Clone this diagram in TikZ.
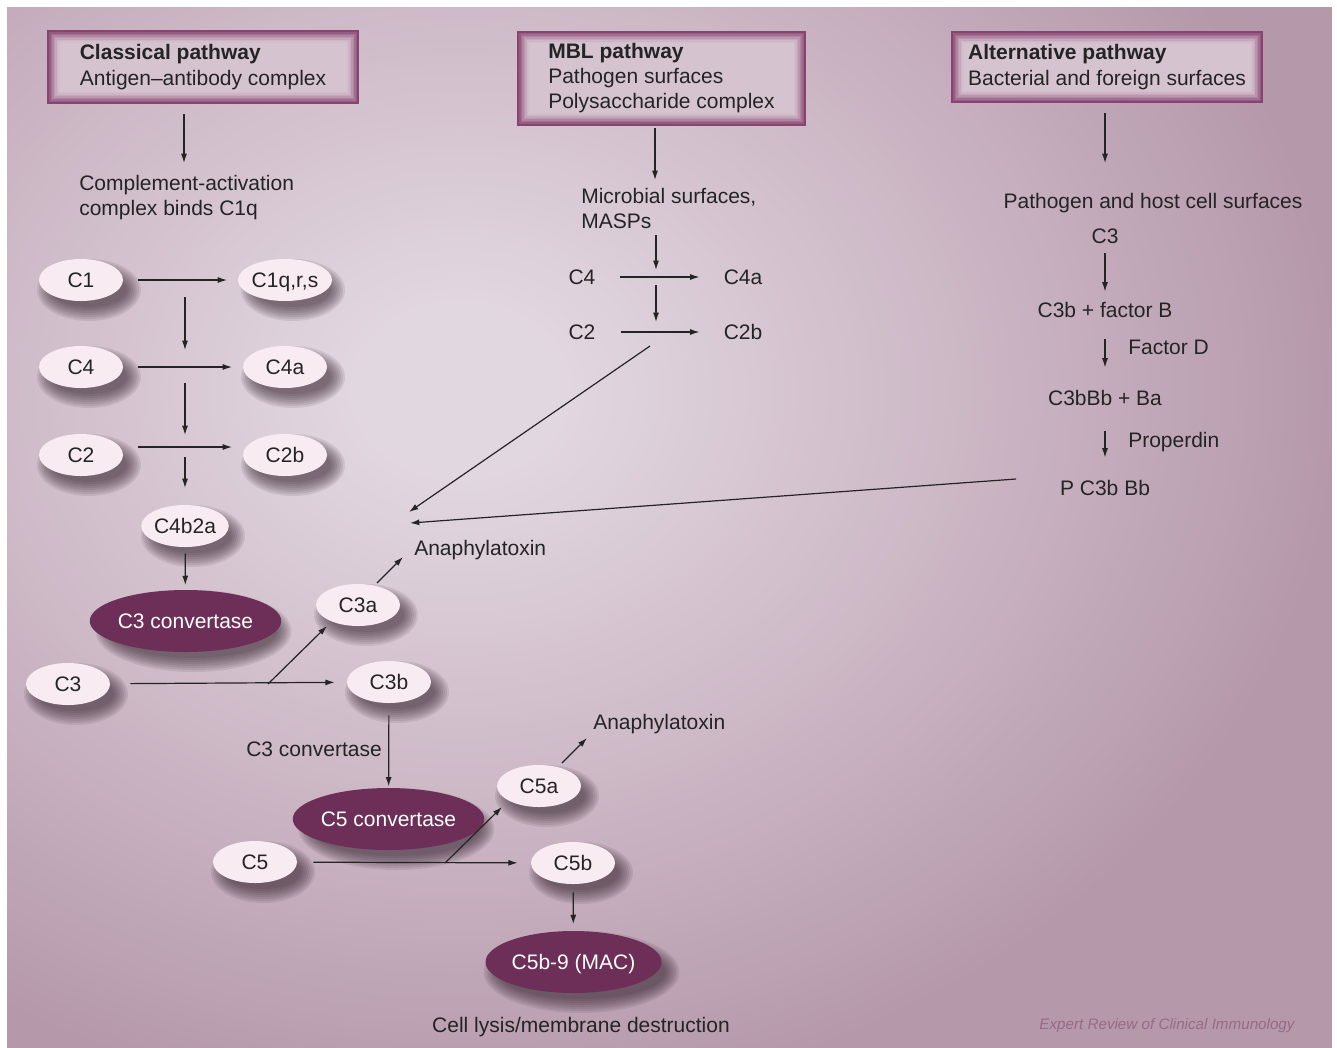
\documentclass[tikz,border=0pt]{standalone}
\usepackage{fontspec}
\setmainfont{Liberation Sans}
\usetikzlibrary{arrows.meta,shapes.geometric}
\definecolor{bgin}{HTML}{E1D7E0}
\definecolor{bgmid}{HTML}{CDB8C6}
\definecolor{bgout}{HTML}{B599AB}
\definecolor{txt}{HTML}{242424}
\definecolor{lightell}{HTML}{F8ECF2}
\definecolor{darkell}{HTML}{6D2F58}
\definecolor{frameD}{HTML}{884470}
\definecolor{frameL}{HTML}{D6C3D0}
\definecolor{credit}{HTML}{98698A}
\definecolor{shc}{HTML}{35232F}
\pgfdeclareradialshading{bgshade}{\pgfpoint{0bp}{0bp}}{color(0bp)=(bgin); color(3bp)=(bgin); color(14bp)=(bgmid); color(25bp)=(bgout); color(50bp)=(bgout)}
\newcommand{\eshadow}[4]{%
  \foreach \k in {0,...,7}{%
    \fill[shc, opacity=0.1] ({#1+8},{#2+10}) ellipse [x radius={(#3-4+\k*2)*0.75pt}, y radius={(#4-4+\k*2)*0.75pt}];}}
\tikzset{
  lell/.style={ellipse, fill=lightell, minimum width=63pt, minimum height=31.5pt, inner sep=0pt,
    text=txt, text height=11.3pt, text depth=0pt},
  dell/.style={ellipse, fill=darkell, minimum width=132pt, minimum height=46.5pt, inner sep=0pt,
    text=white, text height=11.3pt, text depth=0pt},
  pbox/.style={rectangle, fill=frameD, align=left, text=txt, inner sep=0pt,
    path picture={
      \foreach \i/\c in {2/82,3.5/66,5/50,6.5/35,8/22,9.5/11,11/4,12.5/0}{
        \fill[frameD!\c!frameL] ([xshift=\i*0.75pt,yshift=\i*0.75pt]path picture bounding box.south west)
          rectangle ([xshift=-\i*0.75pt,yshift=-\i*0.75pt]path picture bounding box.north east);
      }}},
  lbl/.style={text=txt, inner sep=0pt, text height=11.3pt, text depth=0pt},
  mlbl/.style={text=txt, inner sep=0pt, align=left, anchor=base west},
  arr/.style={draw=txt, line width=0.9pt, -{Latex[length=7pt,width=4.5pt]}},
}
\begin{document}
\begin{tikzpicture}[x=0.75pt,y=-0.75pt,font=\fontsize{15.75pt}{19pt}\selectfont]
\useasboundingbox (0,0) rectangle (1337,1047);
\begin{scope}
  \clip (7,7) rectangle (1332,1070);
  \fill[bgout] (7,7) rectangle (1332,1070);
  \shade[shading=bgshade] (460,390) ellipse [x radius=660pt, y radius=540pt];
\end{scope}
\fill[white] (-5,-5) rectangle (1342,7);
\fill[white] (-5,-5) rectangle (7,1060);
\fill[white] (1332,-5) rectangle (1342,1060);

% pathway boxes
\node[pbox, minimum width=234pt, minimum height=55.5pt] (cp) at (203,67)
  {{\bfseries Classical pathway}\\Antigen\textendash antibody complex};
\node[pbox, minimum width=216.75pt, minimum height=71.25pt] (mbl) at (661.5,78)
  {{\bfseries MBL pathway}\\Pathogen surfaces\\Polysaccharide complex};
\node[pbox, minimum width=234pt, minimum height=54pt] (alt) at (1107,67)
  {{\bfseries Alternative pathway}\\Bacterial and foreign surfaces};

% classical column
\coordinate (cpe) at (184,163);
\draw[arr, shorten <=7.5pt] (cp.south -| cpe) -- (cpe);
\node[mlbl] (cmpl) at (79,215.5) {Complement-activation\\complex binds C1q};

\eshadow{81}{280}{42}{21}
\node[lell] (c1) at (81,280) {C1};
\eshadow{285}{280}{42}{21}
\node[lell] (c1q) at (285,280) {C1q,r,s};
\eshadow{81}{367}{42}{21}
\node[lell] (c4) at (81,367) {C4};
\eshadow{285}{367}{42}{21}
\node[lell] (c4a) at (285,367) {C4a};
\eshadow{81}{455}{42}{21}
\node[lell] (c2) at (81,455) {C2};
\eshadow{285}{455}{42}{21}
\node[lell] (c2b) at (285,455) {C2b};
\eshadow{185}{526}{42}{21}
\node[lell] (c4b2a) at (185,526) {C4b2a};
\eshadow{185.5}{621}{88}{31}
\node[dell] (c3conv) at (185.5,621) {C3 convertase};

\draw[arr, shorten <=11pt, shorten >=8pt] (c1) -- (c1q);
\draw[arr, shorten <=11pt, shorten >=8pt] (c4) -- (c4a);
\draw[arr, shorten <=11pt, shorten >=8pt] ([yshift=6pt]c2.east) -- ([yshift=6pt]c2b.west);
\coordinate (v1s) at (185,297); \coordinate (v1e) at (185,350);
\coordinate (v2s) at (185,383); \coordinate (v2e) at (185,435);
\coordinate (v3s) at (185,457); \coordinate (v3e) at (185,488);
\draw[arr] (v1s) -- (v1e);
\draw[arr] (v2s) -- (v2e);
\draw[arr] (v3s) -- (v3e);
\draw[arr, shorten <=4.5pt, shorten >=3.5pt] (c4b2a) -- (c3conv);

% C3 cleavage
\eshadow{68}{684}{42}{21}
\node[lell] (c3) at (68,684) {C3};
\eshadow{358}{605}{42}{21}
\node[lell] (c3a) at (358,605) {C3a};
\eshadow{389}{682}{42}{21}
\node[lell] (c3b) at (389,682) {C3b};
\node[lbl, anchor=west] (ana1) at (414,548) {Anaphylatoxin};
\coordinate (br3) at (268,684);
\coordinate (c3ae) at (327,626);
\draw[arr, shorten <=15pt, shorten >=9pt] (c3) -- (c3b);
\draw[arr] (br3) -- (c3ae);
\coordinate (a1s) at (377,583); \coordinate (a1e) at (403,557);
\draw[arr] (a1s) -- (a1e);

% C5 stage
\node[lbl, anchor=east] (c3cl) at (382,749) {C3 convertase};
\eshadow{388.5}{819}{88}{31}
\node[dell] (c5conv) at (388.5,819) {C5 convertase};
\draw[arr, shorten <=9pt, shorten >=1pt] (c3b) -- (c5conv);
\eshadow{255}{862}{42}{21}
\node[lell] (c5) at (255,862) {C5};
\eshadow{539}{786}{42}{21}
\node[lell] (c5a) at (539,786) {C5a};
\eshadow{573}{863}{42}{21}
\node[lell] (c5b) at (573,863) {C5b};
\node[lbl, anchor=west] (ana2) at (593,722) {Anaphylatoxin};
\draw[arr, shorten <=12pt, shorten >=9.75pt] (c5) -- (c5b);
\coordinate (br5) at (445,863); \coordinate (c5ae) at (502,807);
\draw[arr] (br5) -- (c5ae);
\coordinate (a2s) at (562,763); \coordinate (a2e) at (587,738);
\draw[arr] (a2s) -- (a2e);
\eshadow{573.5}{962}{88}{31}
\node[dell] (mac) at (573.5,962) {C5b-9 (MAC)};
\draw[arr, shorten <=6pt, shorten >=5pt] (c5b) -- (mac);
\node[lbl] (lysis) at (581,1025) {Cell lysis/membrane destruction};

% MBL column
\coordinate (mble) at (655,180);
\draw[arr, shorten <=2pt] (mbl.south -| mble) -- (mble);
\node[mlbl] (micro) at (581,228.5) {Microbial surfaces,\\MASPs};
\node[lbl] (m4) at (582,277) {C4};
\node[lbl] (m4a) at (743,277) {C4a};
\node[lbl] (m2) at (582,332) {C2};
\node[lbl] (m2b) at (743,332) {C2b};
\draw[arr, shorten <=18pt, shorten >=18pt] (m4) -- (m4a);
\draw[arr, shorten <=19pt, shorten >=18pt] (m2) -- (m2b);
\coordinate (mv1s) at (656,235); \coordinate (mv1e) at (656,270);
\coordinate (mv2s) at (656,285); \coordinate (mv2e) at (656,322);
\draw[arr] (mv1s) -- (mv1e);
\draw[arr] (mv2s) -- (mv2e);
\coordinate (md1) at (650,346); \coordinate (md2) at (409,512);
\draw[arr] (md1) -- (md2);

% alternative column
\coordinate (alte) at (1105,163);
\draw[arr, shorten <=7.5pt] (alt.south -| alte) -- (alte);
\node[lbl] (path) at (1153,201) {Pathogen and host cell surfaces};
\node[lbl] (ac3) at (1105,236) {C3};
\node[lbl] (c3bfb) at (1105,310) {C3b + factor B};
\node[lbl, anchor=west] (facd) at (1128,347) {Factor D};
\node[lbl] (c3bbb) at (1105,398) {C3bBb + Ba};
\node[lbl, anchor=west] (prop) at (1128,440) {Properdin};
\node[lbl] (pc3) at (1105,488) {P C3b Bb};
\draw[arr, shorten <=7pt, shorten >=8pt] (ac3) -- (c3bfb);
\draw[arr, shorten <=16pt, shorten >=17pt] (c3bfb) -- (c3bbb);
\draw[arr, shorten <=19pt, shorten >=17pt] (c3bbb) -- (pc3);
\coordinate (ls) at (1016,479); \coordinate (le) at (410,523);
\draw[arr] (ls) -- (le);

% credit
\node[inner sep=0pt, text=credit, font=\fontsize{11.4pt}{13pt}\selectfont\itshape] (credit) at (1167,1026) {Expert Review of Clinical Immunology};
\end{tikzpicture}
\end{document}
